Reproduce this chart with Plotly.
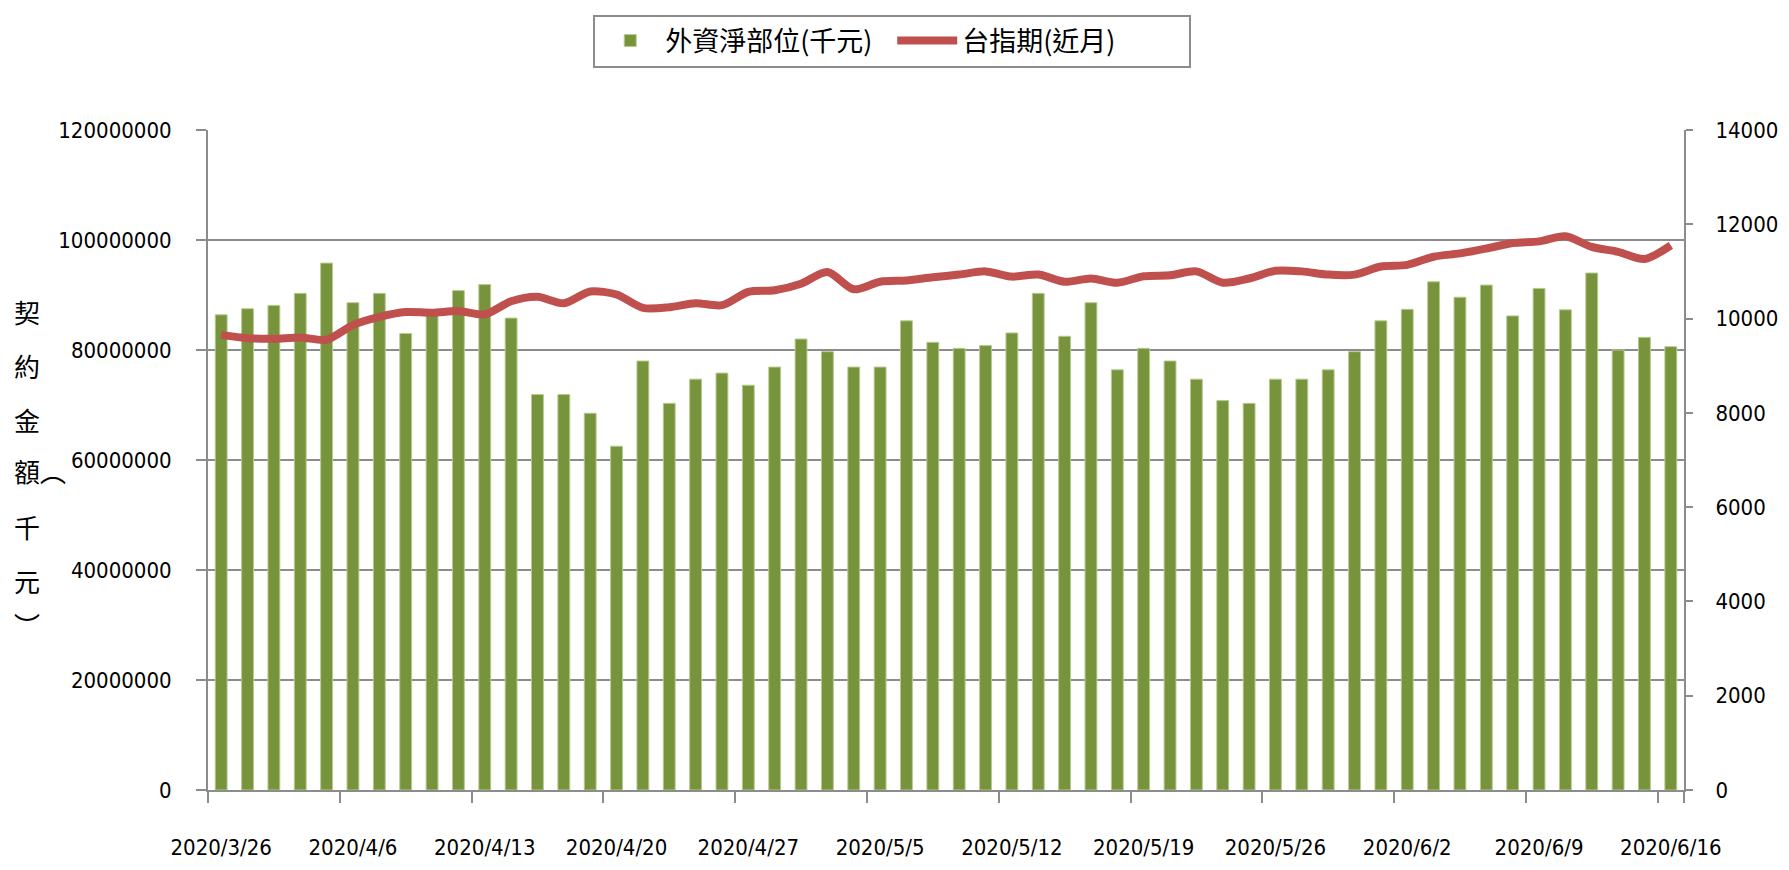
import subprocess
import plotly.graph_objects as go

dates = [
    "2020/3/26", "2020/3/27", "2020/3/30", "2020/3/31", "2020/4/1",
    "2020/4/6", "2020/4/7", "2020/4/8", "2020/4/9", "2020/4/10",
    "2020/4/13", "2020/4/14", "2020/4/15", "2020/4/16", "2020/4/17",
    "2020/4/20", "2020/4/21", "2020/4/22", "2020/4/23", "2020/4/24",
    "2020/4/27", "2020/4/28", "2020/4/29", "2020/4/30", "2020/5/4",
    "2020/5/5", "2020/5/6", "2020/5/7", "2020/5/8", "2020/5/11",
    "2020/5/12", "2020/5/13", "2020/5/14", "2020/5/15", "2020/5/18",
    "2020/5/19", "2020/5/20", "2020/5/21", "2020/5/22", "2020/5/25",
    "2020/5/26", "2020/5/27", "2020/5/28", "2020/5/29", "2020/6/1",
    "2020/6/2", "2020/6/3", "2020/6/4", "2020/6/5", "2020/6/8",
    "2020/6/9", "2020/6/10", "2020/6/11", "2020/6/12", "2020/6/15",
    "2020/6/16",
]

# 外資淨部位 (千元)
net_position = [
    86400000, 87500000, 88100000, 90300000, 95800000,
    88600000, 90300000, 83000000, 86300000, 90800000,
    91900000, 85800000, 71900000, 71900000, 68500000,
    62500000, 78000000, 70300000, 74700000, 75800000,
    73600000, 76900000, 82000000, 79700000, 76900000,
    76900000, 85300000, 81400000, 80300000, 80800000,
    83100000, 90300000, 82500000, 88600000, 76400000,
    80300000, 78000000, 74700000, 70800000, 70300000,
    74700000, 74700000, 76400000, 79700000, 85300000,
    87400000, 92400000, 89600000, 91800000, 86200000,
    91200000, 87300000, 94000000, 80000000, 82300000,
    80600000,
]

# 台指期 (近月)
tx_near = [
    9654, 9585, 9571, 9600, 9551,
    9861, 10035, 10139, 10124, 10159,
    10090, 10367, 10463, 10325, 10574,
    10510, 10228, 10242, 10325, 10284,
    10566, 10601, 10740, 10989, 10622,
    10781, 10808, 10877, 10933, 11001,
    10890, 10933, 10781, 10850, 10760,
    10897, 10918, 11001, 10760, 10850,
    11015, 11001, 10933, 10933, 11105,
    11140, 11312, 11382, 11486, 11602,
    11637, 11747, 11519, 11416, 11264,
    11554,
]

tick_idx = list(range(0, 56, 5))
tick_vals = [dates[i] for i in tick_idx]

# pick the narrowest installed sans for the numeric labels
try:
    fams = subprocess.run(["fc-list", ":", "family"], capture_output=True, text=True, timeout=10).stdout
except Exception:
    fams = ""
if "Liberation Sans Narrow" in fams:
    num_family, num_size = "Liberation Sans Narrow", 28
elif "Noto Sans ExtraCondensed" in fams:
    num_family, num_size = "Noto Sans ExtraCondensed", 28
else:
    num_family, num_size = "DejaVu Sans Condensed", 22

num_font = dict(family=num_family + ", DejaVu Sans Condensed, sans-serif", size=num_size, color="black")
cjk_font = "Noto Sans CJK TC, Noto Sans CJK SC, sans-serif"
grid_col = "#8c8c8c"

fig = go.Figure()
fig.add_trace(go.Bar(
    x=dates, y=net_position, name="外資淨部位(千元)",
    marker=dict(color="#77933C", line=dict(color="#b5cc8e", width=1)),
    yaxis="y",
))
fig.add_trace(go.Scatter(
    x=dates, y=tx_near, name="台指期(近月)", mode="lines",
    line=dict(color="#C0504D", width=8, shape="spline", smoothing=0.8),
    yaxis="y2",
))

fig.update_layout(
    paper_bgcolor="white", plot_bgcolor="white",
    margin=dict(l=200, r=97, t=122, b=72, autoexpand=False),
    bargap=0.55,
    showlegend=True,
    legend=dict(
        orientation="h", x=0.261, y=1.175, xanchor="left", yanchor="top",
        font=dict(family=cjk_font, size=27, color="black"),
        bordercolor="#8c8c8c", borderwidth=2, bgcolor="white",
        itemwidth=60, entrywidthmode="pixels", entrywidth=222,
    ),
    xaxis=dict(
        type="category", categoryorder="array", categoryarray=dates,
        range=[-0.5, 55.5],
        tickmode="array", tickvals=tick_vals, ticktext=tick_vals,
        tickson="boundaries", ticks="outside", ticklen=11, tickwidth=2, tickcolor=grid_col,
        showline=True, linecolor=grid_col, linewidth=2,
        showgrid=False, tickfont=num_font, tickangle=0,
        ticklabelstandoff=37,
    ),
    yaxis=dict(
        range=[0, 120000000], dtick=20000000, tickformat="d",
        showgrid=True, gridcolor=grid_col, gridwidth=2,
        showline=True, linecolor=grid_col, linewidth=2,
        ticks="outside", ticklen=10, tickwidth=2, tickcolor=grid_col,
        tickfont=num_font, zeroline=False, ticklabelstandoff=20,
    ),
    yaxis2=dict(
        range=[0, 14000], dtick=2000, tickformat="d",
        overlaying="y", side="right", showgrid=False,
        showline=True, linecolor=grid_col, linewidth=2,
        ticks="outside", ticklen=7, tickwidth=2, tickcolor=grid_col,
        tickfont=num_font, zeroline=False, ticklabelstandoff=18,
    ),
)

# vertical y-axis title 契約金額(千元)
plot_top, plot_bot = 122, 797.5
rows = [("契", 308, 17, "center"), ("約", 363, 17, "center"), ("金", 418, 17, "center"),
        ("額︵", 470, 2, "left"), ("千", 528, 17, "center"), ("元", 583, 17, "center"),
        ("︶", 628, 17, "center")]
for ch, ypx, xpx, anc in rows:
    fig.add_annotation(
        text=ch, xref="paper", yref="paper",
        x=(xpx - 200) / 1492, y=(plot_bot - ypx) / (plot_bot - plot_top),
        xanchor=anc, yanchor="middle", showarrow=False,
        font=dict(family=cjk_font, size=26, color="black"),
    )

fig.write_html("out.html")
